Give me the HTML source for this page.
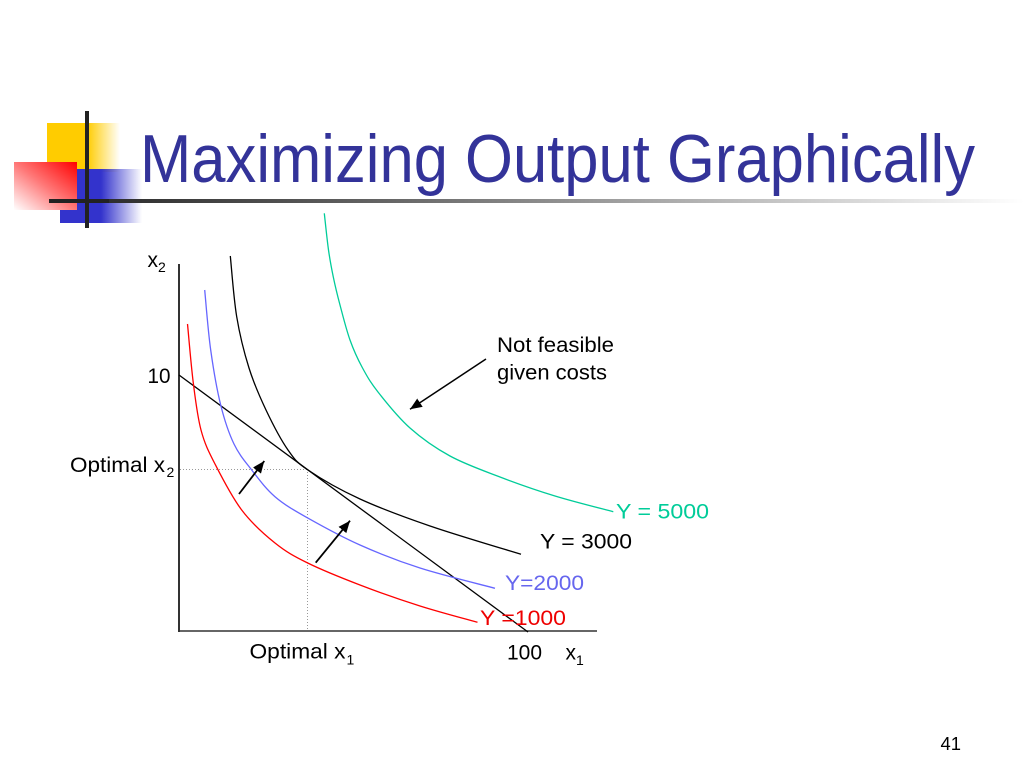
<!DOCTYPE html>
<html>
<head>
<meta charset="utf-8">
<style>
  html, body { margin:0; padding:0; background:#fff; }
  body { width:1024px; height:768px; overflow:hidden; }
  svg { display:block; }
  text { font-family: "Liberation Sans", "DejaVu Sans", sans-serif; }
</style>
</head>
<body>
<svg width="1024" height="768" viewBox="0 0 1024 768" xmlns="http://www.w3.org/2000/svg">
  <defs>
    <linearGradient id="gYellow" x1="0" y1="0" x2="1" y2="0">
      <stop offset="0" stop-color="#FFCC00"/>
      <stop offset="0.55" stop-color="#FFCC00"/>
      <stop offset="1" stop-color="#FFCC00" stop-opacity="0"/>
    </linearGradient>
    <linearGradient id="gBlue" x1="0" y1="0" x2="1" y2="0">
      <stop offset="0" stop-color="#3333CC"/>
      <stop offset="0.5" stop-color="#3333CC"/>
      <stop offset="1" stop-color="#3333CC" stop-opacity="0"/>
    </linearGradient>
    <linearGradient id="gRed" x1="1" y1="0" x2="0" y2="1">
      <stop offset="0" stop-color="#FF0000"/>
      <stop offset="0.5" stop-color="#FF7777"/>
      <stop offset="1" stop-color="#FFFFFF"/>
    </linearGradient>
    <linearGradient id="gLine" x1="0" y1="0" x2="1" y2="0">
      <stop offset="0" stop-color="#222222"/>
      <stop offset="0.35" stop-color="#666666"/>
      <stop offset="0.7" stop-color="#BBBBBB"/>
      <stop offset="1" stop-color="#FFFFFF"/>
    </linearGradient>
    <marker id="ah" markerUnits="userSpaceOnUse" markerWidth="14" markerHeight="12" refX="12" refY="5" orient="auto">
      <path d="M0,0 L12,5 L0,10 Z" fill="#000"/>
    </marker>
  </defs>

  <!-- Logo -->
  <rect x="47" y="123" width="73" height="49" fill="url(#gYellow)"/>
  <rect x="60" y="169" width="82" height="54" fill="url(#gBlue)"/>
  <rect x="14" y="162" width="63" height="48" fill="url(#gRed)"/>
  <rect x="49" y="199" width="975" height="4" fill="url(#gLine)"/>
  <rect x="49" y="199" width="60" height="4" fill="#222"/>
  <rect x="85" y="111" width="4" height="117" fill="#222"/>

  <!-- Title -->
  <text x="140" y="182" font-size="68" fill="#333399" textLength="835" lengthAdjust="spacingAndGlyphs">Maximizing Output Graphically</text>

  <!-- Axes -->
  <line x1="179" y1="264" x2="179" y2="632" stroke="#333" stroke-width="2"/>
  <line x1="178" y1="631" x2="597" y2="631" stroke="#333" stroke-width="1.6"/>

  <!-- Dotted guides -->
  <line x1="180" y1="469.5" x2="308" y2="469.5" stroke="#999" stroke-width="1" stroke-dasharray="1,2"/>
  <line x1="307.5" y1="469" x2="307.5" y2="630" stroke="#999" stroke-width="1" stroke-dasharray="1,2"/>

  <!-- Budget line -->
  <line x1="179" y1="375" x2="528" y2="632" stroke="#000" stroke-width="1.3"/>

  <!-- Curves -->
  <path fill="none" stroke="#FF0000" stroke-width="1.3"
    d="M187.5,324 C188.5,333.8 191.05,365.3 193.3,383 C195.55,400.7 197.4,416.5 201,430 C204.6,443.5 208.2,450.7 215,464 C221.8,477.3 231.7,496.8 241.7,510 C251.7,523.2 264,534.2 275,543 C286,551.8 293.5,556 307.7,563 C321.9,570 341.3,577.8 360,585 C378.7,592.2 400.4,599.8 420,606 C439.6,612.2 467.9,619.6 477.5,622.3"/>
  <path fill="none" stroke="#6666FF" stroke-width="1.3"
    d="M204.7,290 C205.7,300 208,330.8 210.7,350 C213.4,369.2 216.8,389.3 220.7,405 C224.6,420.7 228.8,433.2 234,444 C239.2,454.8 244.9,461.2 251.7,470 C258.5,478.8 265.6,488.6 275,496.7 C284.4,504.8 294.1,510.3 308.3,518.3 C322.5,526.3 341.4,536.7 360,545 C378.6,553.3 397.5,560.8 420,568 C442.5,575.2 482.5,584.9 495,588.3"/>
  <path fill="none" stroke="#000" stroke-width="1.3"
    d="M230.3,256 C231.4,266.1 233.6,298 236.7,316.7 C239.8,335.4 244.1,352.4 249,368 C253.9,383.6 259.5,396.3 266,410 C272.5,423.7 281,440 288,450 C295,460 296,461.8 308,470 C320,478.2 339.7,489.7 360,499 C380.3,508.3 403.2,516.8 430,526 C456.8,535.2 505.8,549.6 521,554.3"/>
  <path fill="none" stroke="#00CC99" stroke-width="1.3"
    d="M324.3,213.3 C325,219.4 327,239.4 328.5,250 C330,260.6 331.4,267.8 333.3,277 C335.2,286.2 337.2,294.5 340,305 C342.8,315.5 346.3,329.7 350,340 C353.7,350.3 357.3,358.3 362,367 C366.7,375.7 370,381.8 378,392 C386,402.2 398,417.3 410,428 C422,438.7 435,447.8 450,456 C465,464.2 482.5,470.3 500,477 C517.5,483.7 536.1,490.2 555,496 C573.9,501.8 603.6,509.1 613.3,511.7"/>

  <!-- Arrows -->
  <line x1="239" y1="494" x2="264.3" y2="461" stroke="#000" stroke-width="1.8" marker-end="url(#ah)"/>
  <line x1="315.7" y1="562.7" x2="350" y2="520.7" stroke="#000" stroke-width="1.8" marker-end="url(#ah)"/>
  <line x1="486" y1="359" x2="410" y2="409.3" stroke="#000" stroke-width="1.5" marker-end="url(#ah)"/>

  <!-- Axis labels -->
  <text x="147.5" y="267" font-size="21" fill="#000">x<tspan font-size="14" dy="5">2</tspan></text>
  <text x="147.5" y="383" font-size="21" fill="#000" textLength="23" lengthAdjust="spacingAndGlyphs">10</text>
  <text x="70" y="472" font-size="21" fill="#000" textLength="95" lengthAdjust="spacingAndGlyphs">Optimal x</text>
  <text x="166.5" y="477" font-size="14" fill="#000">2</text>
  <text x="249.5" y="658.5" font-size="21" fill="#000" textLength="96" lengthAdjust="spacingAndGlyphs">Optimal x</text>
  <text x="346.5" y="664.5" font-size="14" fill="#000">1</text>
  <text x="507" y="659.5" font-size="21" fill="#000" textLength="35" lengthAdjust="spacingAndGlyphs">100</text>
  <text x="565.5" y="659.5" font-size="21" fill="#000">x</text>
  <text x="576" y="665" font-size="14" fill="#000">1</text>

  <!-- Annotation -->
  <text x="497" y="352" font-size="21" fill="#000" textLength="117" lengthAdjust="spacingAndGlyphs">Not feasible</text>
  <text x="497" y="379.5" font-size="21" fill="#000" textLength="110" lengthAdjust="spacingAndGlyphs">given costs</text>

  <!-- Curve labels -->
  <text x="616" y="518.5" font-size="21" fill="#00CC99" textLength="93" lengthAdjust="spacingAndGlyphs">Y = 5000</text>
  <text x="540" y="548.5" font-size="21" fill="#000" textLength="92" lengthAdjust="spacingAndGlyphs">Y = 3000</text>
  <text x="505" y="590" font-size="21" fill="#6666EE" textLength="79" lengthAdjust="spacingAndGlyphs">Y=2000</text>
  <text x="480" y="625" font-size="21" fill="#EE0000" textLength="86" lengthAdjust="spacingAndGlyphs">Y =1000</text>

  <!-- Page number -->
  <text x="940.5" y="750" font-size="18" fill="#000" textLength="20.5" lengthAdjust="spacingAndGlyphs">41</text>
</svg>
</body>
</html>
